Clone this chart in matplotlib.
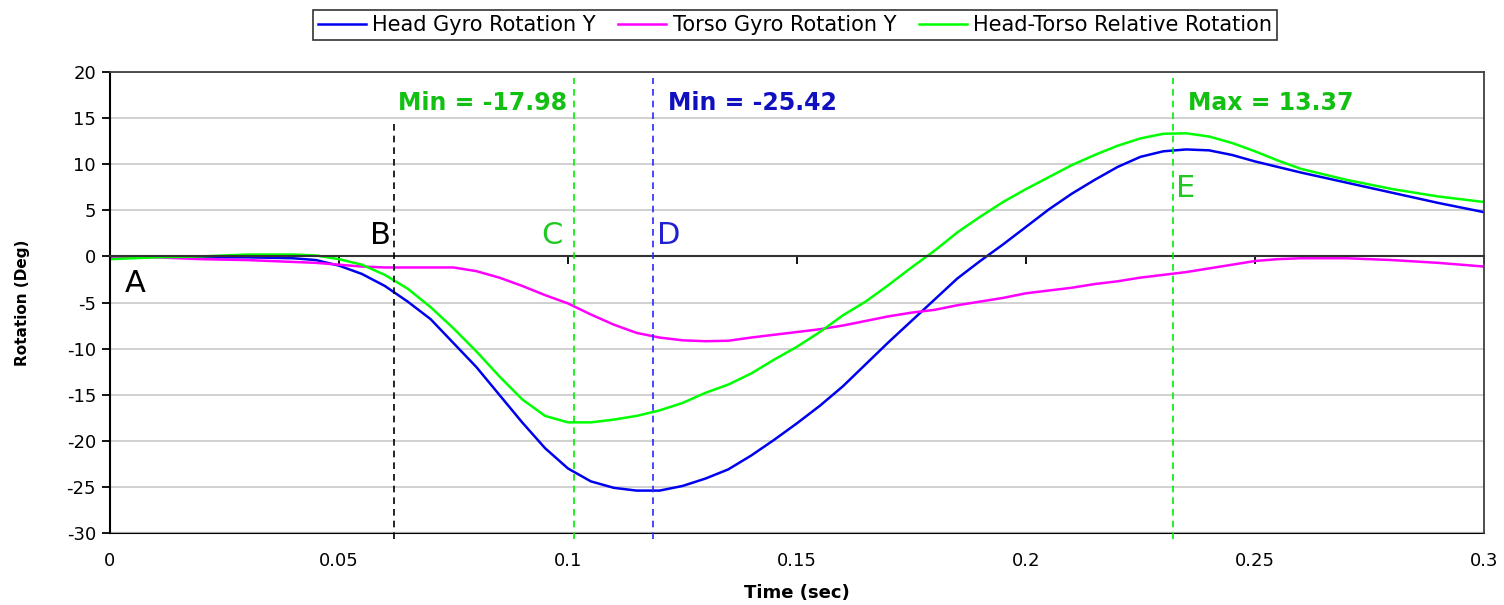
import matplotlib
matplotlib.use('Agg')
import matplotlib.pyplot as plt

plt.rcParams['font.family'] = ['DejaVu Sans']
plt.rcParams['axes.unicode_minus'] = False

# time axis (sec) and the three gyro traces (deg)
time_s = [0.0, 0.01, 0.02, 0.03, 0.04, 0.045, 0.05, 0.055, 0.06, 0.065,
          0.07, 0.075, 0.08, 0.085, 0.09, 0.095, 0.1, 0.105, 0.11, 0.115,
          0.12, 0.125, 0.13, 0.135, 0.14, 0.145, 0.15, 0.155, 0.16, 0.165,
          0.17, 0.175, 0.18, 0.185, 0.19, 0.195, 0.2, 0.205, 0.21, 0.215,
          0.22, 0.225, 0.23, 0.235, 0.24, 0.245, 0.25, 0.255, 0.26, 0.27,
          0.28, 0.29, 0.3]
head_y = [0.0, 0.0, -0.1, -0.1, -0.2, -0.4, -1.0, -1.9, -3.2, -4.9,
          -6.8, -9.4, -12.0, -15.0, -18.0, -20.8, -23.0, -24.4, -25.1, -25.4,
          -25.4, -24.9, -24.1, -23.1, -21.6, -19.9, -18.1, -16.2, -14.1, -11.7,
          -9.3, -7.0, -4.7, -2.4, -0.5, 1.3, 3.2, 5.1, 6.8, 8.3,
          9.7, 10.8, 11.4, 11.6, 11.5, 11.0, 10.3, 9.7, 9.1, 8.0,
          6.9, 5.8, 4.8]
torso_y = [0.0, -0.1, -0.3, -0.4, -0.6, -0.7, -0.9, -1.1, -1.2, -1.2,
           -1.2, -1.2, -1.6, -2.3, -3.2, -4.2, -5.1, -6.3, -7.4, -8.3,
           -8.8, -9.1, -9.2, -9.15, -8.8, -8.5, -8.2, -7.9, -7.5, -7.0,
           -6.5, -6.1, -5.8, -5.3, -4.9, -4.5, -4.0, -3.7, -3.4, -3.0,
           -2.7, -2.3, -2.0, -1.7, -1.3, -0.9, -0.5, -0.3, -0.2, -0.2,
           -0.4, -0.7, -1.1]
relative_y = [-0.3, -0.1, 0.0, 0.2, 0.2, 0.1, -0.3, -0.9, -2.0, -3.5,
              -5.5, -7.8, -10.3, -13.0, -15.5, -17.3, -18.0, -18.0, -17.7, -17.3,
              -16.7, -15.9, -14.8, -13.9, -12.7, -11.2, -9.8, -8.2, -6.4, -4.9,
              -3.1, -1.2, 0.6, 2.6, 4.3, 5.9, 7.3, 8.6, 9.9, 11.0,
              12.0, 12.8, 13.3, 13.35, 13.0, 12.3, 11.4, 10.4, 9.5, 8.3,
              7.3, 6.5, 5.9]

# event markers and annotations
event_t = [0.0620, 0.1014, 0.1186, 0.2321]
event_top = [14.5, 19.4, 19.4, 19.4]
event_colors = ['black', '#00ee00', '#2a2aff', '#00ee00']
annot_text = ['Min = -17.98', 'Min = -25.42', 'Max = 13.37']
annot_t = [0.0629, 0.1218, 0.2354]
annot_colors = ['#11c011', '#1010c0', '#11c011']
letters = ['A', 'B', 'C', 'D', 'E']
letter_t = [0.0033, 0.0568, 0.0941, 0.1194, 0.2328]
letter_y = [-2.9, 2.3, 2.3, 2.3, 7.4]
letter_colors = ['black', 'black', '#22c822', '#2020d0', '#22c822']
xticks = [0, 0.05, 0.1, 0.15, 0.2, 0.25, 0.3]
xtick_labels = ['0', '0.05', '0.1', '0.15', '0.2', '0.25', '0.3']

fig = plt.figure(figsize=(15.04, 6.05), dpi=100)
ax = fig.add_axes([0.0731, 0.119, 0.9136, 0.762])

l1, = ax.plot(time_s, head_y, color='#0000f0', lw=1.8, label='Head Gyro Rotation Y')
l2, = ax.plot(time_s, torso_y, color='#ff00ff', lw=1.8, label='Torso Gyro Rotation Y')
l3, = ax.plot(time_s, relative_y, color='#00ff00', lw=1.8, label='Head-Torso Relative Rotation')

for t, top, c in zip(event_t, event_top, event_colors):
    ax.vlines(t, -30.7, top, colors=c, linestyles=(0, (4, 3)), lw=1.2, clip_on=False, zorder=3)

for s, t, c in zip(annot_text, annot_t, annot_colors):
    ax.text(t, 16.6, s, color=c, fontsize=17, fontweight='bold', va='center', ha='left')

for s, t, y, c in zip(letters, letter_t, letter_y, letter_colors):
    ax.text(t, y, s, color=c, fontsize=22, va='center', ha='left')

ax.set_xlim(0, 0.3)
ax.set_ylim(-30, 20)
ax.set_yticks(range(-30, 21, 5))
ax.set_xticks(xticks)
ax.grid(axis='y', color='#c8c8c8', lw=1.2)
ax.set_axisbelow(True)

# x axis line crosses at zero, labels sit below the plot
ax.spines['bottom'].set_position(('data', 0))
ax.spines['bottom'].set_color('#333333')
ax.spines['bottom'].set_linewidth(1.5)
ax.tick_params(axis='x', direction='out', length=6, width=1.3, labelbottom=False)
ax.tick_params(axis='y', direction='out', length=6, width=1.3, labelsize=13, pad=4)
for s in ['top', 'right']:
    ax.spines[s].set_color('#404040')
    ax.spines[s].set_linewidth(1.3)
ax.spines['left'].set_linewidth(1.5)

sec = ax.secondary_xaxis('bottom')
sec.set_xticks(xticks)
sec.set_xticklabels(xtick_labels)
sec.tick_params(length=0, labelsize=13, pad=14)
sec.spines['bottom'].set_linewidth(1.5)
sec.set_xlabel('Time (sec)', fontsize=13, fontweight='bold', labelpad=10)

ax.set_ylabel('Rotation (Deg)', fontsize=11, fontweight='bold', labelpad=26)

leg = fig.legend(handles=[l1, l2, l3], loc='center', bbox_to_anchor=(0.5286, 0.959),
                 ncol=3, fontsize=15, frameon=True, fancybox=False,
                 edgecolor='black', handlelength=2.3, handletextpad=0.3,
                 columnspacing=1.1, borderpad=0.25)
leg.get_frame().set_linewidth(1.2)

fig.savefig('out.png', dpi=100)
